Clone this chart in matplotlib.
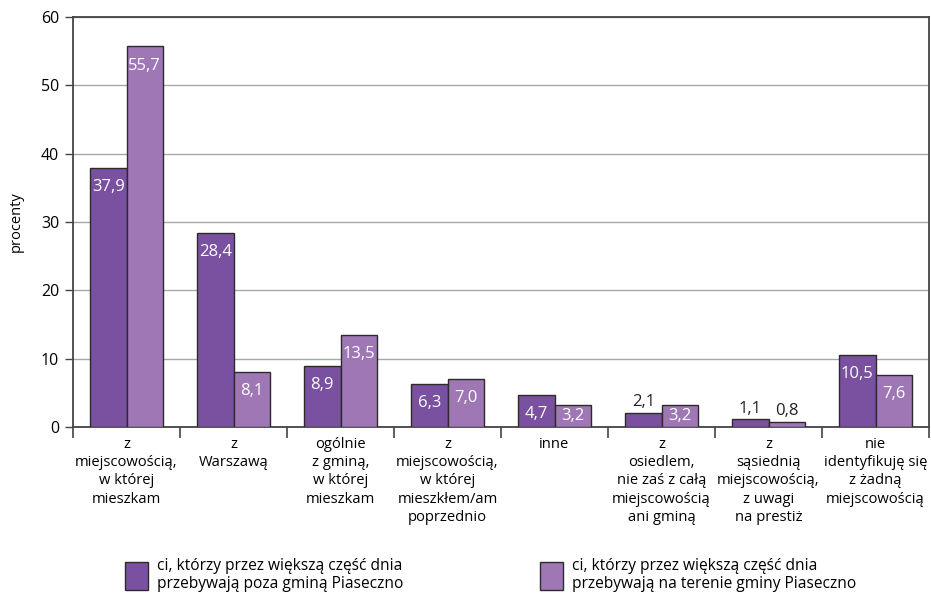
import matplotlib
matplotlib.use("Agg")
from matplotlib import pyplot as plt
from matplotlib.patches import Patch
import numpy as np

plt.rcParams['font.family'] = ['Open Sans', 'DejaVu Sans']

# dane
kategorie = [
    "z\nmiejscowością,\nw której\nmieszkam",
    "z\nWarszawą",
    "ogólnie\nz gminą,\nw której\nmieszkam",
    "z\nmiejscowością,\nw której\nmieszkłem/am\npoprzednio",
    "inne",
    "z\nosiedlem,\nnie zaś z całą\nmiejscowością\nani gminą",
    "z\nsąsiednią\nmiejscowością,\nz uwagi\nna prestiż",
    "nie\nidentyfikuję się\nz żadną\nmiejscowością",
]
poza_gmina = [37.9, 28.4, 8.9, 6.3, 4.7, 2.1, 1.1, 10.5]
w_gminie = [55.7, 8.1, 13.5, 7.0, 3.2, 3.2, 0.8, 7.6]
etykiety_serii = [
    "ci, którzy przez większą część dnia\nprzebywają poza gminą Piaseczno",
    "ci, którzy przez większą część dnia\nprzebywają na terenie gminy Piaseczno",
]

kolor1 = '#7a50a0'
kolor2 = '#9e77b4'
krawedz = '#2b2b2b'
os_kolor = '#444444'

fig = plt.figure(figsize=(9.31, 5.96), dpi=100)
ax = fig.add_axes([73/931, 1-427/596, 856/931, 410/596])

x = np.arange(len(kategorie))
w = 0.34
b1 = ax.bar(x - w/2, poza_gmina, w, color=kolor1, edgecolor=krawedz, linewidth=1, zorder=3)
b2 = ax.bar(x + w/2, w_gminie, w, color=kolor2, edgecolor=krawedz, linewidth=1, zorder=3)

# etykiety wartości
for bars, vals in ((b1, poza_gmina), (b2, w_gminie)):
    for r, v in zip(bars, vals):
        tx = r.get_x() + r.get_width()/2
        s = f"{v:.1f}".replace('.', ',')
        if v < 2.5:
            ax.text(tx, v + 0.4, s, ha='center', va='bottom', fontsize=12, color='#222222', zorder=4)
        else:
            ax.text(tx, max(v - 2.8, 1.6), s, ha='center', va='center', fontsize=12, color='white', zorder=4)

ax.set_xlim(-0.5, len(kategorie) - 0.5)
ax.set_ylim(0, 60)
ax.set_yticks(range(0, 61, 10))
ax.yaxis.grid(True, color='#a8a8a8', linewidth=1, zorder=0)
ax.set_axisbelow(True)

ax.set_xticks(x)
ax.set_xticklabels(kategorie, fontsize=10.6, linespacing=1.3)
ax.set_xticks(np.arange(-0.5, len(kategorie)), minor=True)
ax.tick_params(axis='x', which='major', length=0, pad=7)
ax.tick_params(axis='x', which='minor', length=8, width=1.2, color=os_kolor, direction='out')
ax.tick_params(axis='y', length=6, width=1, color=os_kolor, labelsize=11.5, pad=4)

for sp in ax.spines.values():
    sp.set_color(os_kolor)
    sp.set_linewidth(1.3)

ax.set_ylabel("procenty", fontsize=10.5, labelpad=12)

# legenda - dwa wpisy ustawione osobno
for kol, tekst, px in ((kolor1, etykiety_serii[0], 125), (kolor2, etykiety_serii[1], 540)):
    fig.legend([Patch(facecolor=kol, edgecolor=krawedz)], [tekst], loc='center left',
               bbox_to_anchor=(px/931, 1-575/596), frameon=False, fontsize=11.2,
               handlelength=1.45, handleheight=2.4, handletextpad=0.6,
               borderpad=0, borderaxespad=0)

fig.savefig('out.png')
